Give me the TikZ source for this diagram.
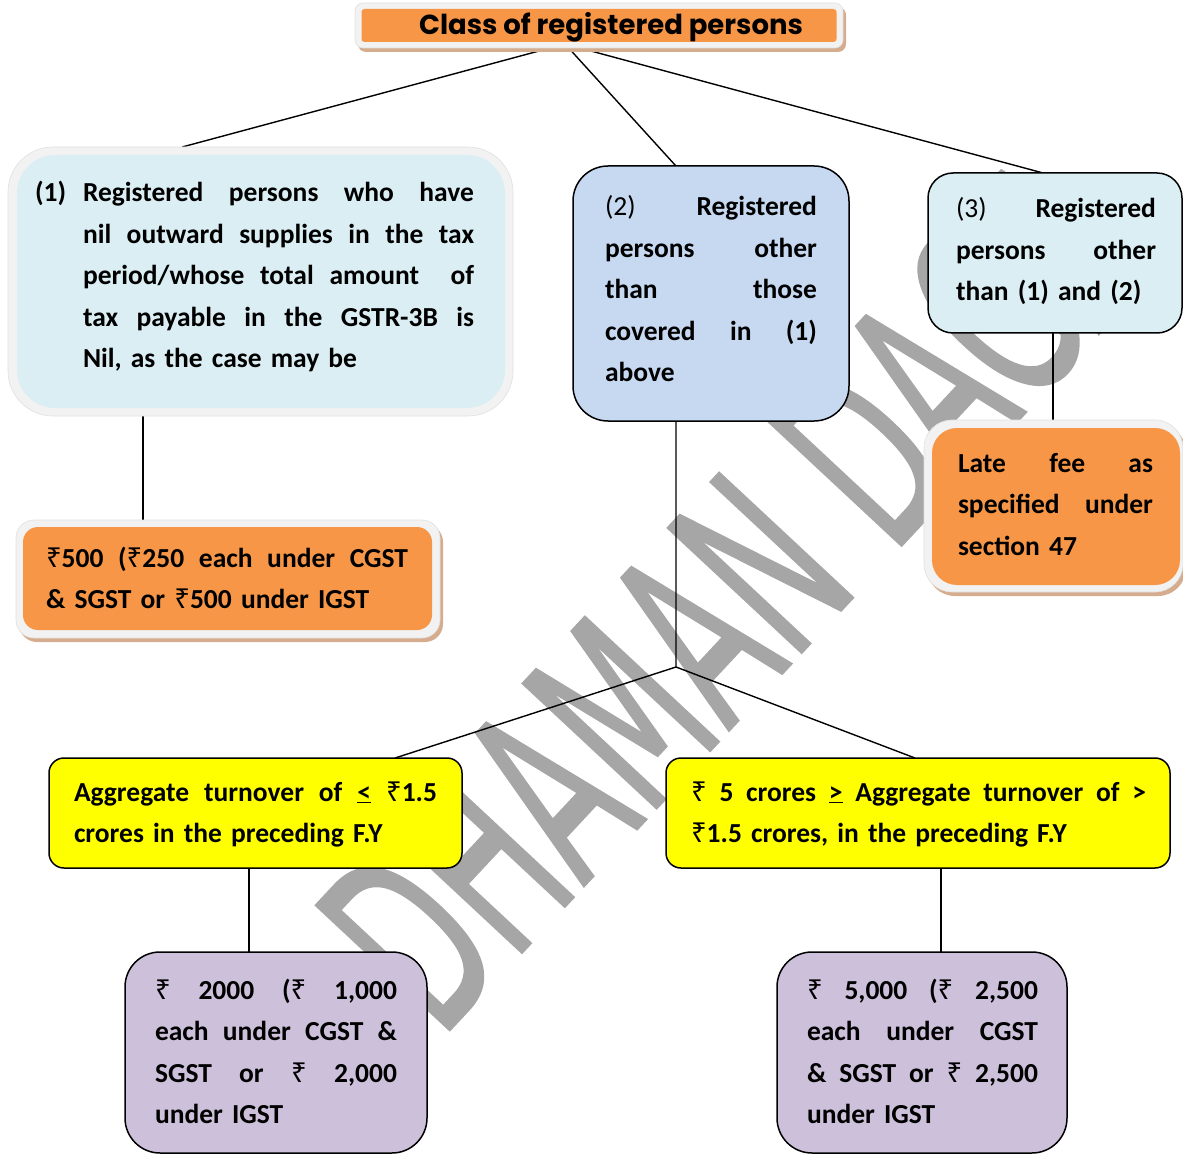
\documentclass[tikz,border=0pt]{standalone}
\usepackage{fontspec}
\setmainfont{Carlito}
\newfontfamily\rupfont{Noto Sans}
\newfontfamily\titlefont{Poppins}
\newfontfamily\wmfont{DejaVu Sans}[FakeBold=1.2]
\usetikzlibrary{calc}

\definecolor{orng}{HTML}{F79646}
\definecolor{paleblue}{HTML}{DAEEF3}
\definecolor{midblue}{HTML}{C6D9F1}
\definecolor{lilac}{HTML}{CCC0DA}
\definecolor{brightyellow}{HTML}{FFFF00}
\definecolor{bandgray}{HTML}{F2F2F2}
\definecolor{bandedge}{HTML}{E0E0E0}
\definecolor{tanshadow}{RGB}{214,172,142}
\definecolor{wmgray}{HTML}{A6A6A6}

% rupee sign and a line stretched to the full text width
\newcommand{\rs}{{\rupfont ₹}}
\newcommand{\jl}[1]{\leavevmode\hbox to \hsize{\spaceskip=0.23em plus 1fil\relax
  \xspaceskip=0.23em plus 1fil\relax #1}\\}

\pgfdeclarelayer{wmlayer}
\pgfdeclarelayer{linklayer}
\pgfsetlayers{wmlayer,linklayer,main}

\tikzset{
  box/.style={draw=black, line width=1.5pt, inner sep=0pt, outer sep=0pt},
  band/.style={fill=bandgray, draw=bandedge, line width=0.6pt, inner sep=0pt, outer sep=0pt},
  core/.style={inner sep=0pt, outer sep=0pt},
  shade/.style={fill=tanshadow, inner sep=0pt, outer sep=0pt},
  txt/.style={inner sep=0pt, outer sep=0pt, anchor=base west, align=left,
    font=\bfseries\fontsize{27.5}{41.5}\selectfont},
  link/.style={draw=black, line width=1.4pt},
}

\begin{document}
\begin{tikzpicture}[x=1pt, y=-1pt]
\useasboundingbox (0,0) rectangle (1183,1155);

% ---------- title ----------
\node[shade, rounded corners=8, minimum width=488, minimum height=45] (titlesh) at (602,29.5) {};
\node[band, rounded corners=8, minimum width=488, minimum height=45] (titlefr) at (599,25.5) {};
\node[core, fill=orng, rounded corners=3, minimum width=475, minimum height=33] (title) at (599,25.5) {};
\node[inner sep=0pt, font=\titlefont\bfseries\fontsize{27.5}{30}\selectfont] (titletext) at (611,27) {Class of registered persons};

% ---------- box (1) ----------
\node[band, rounded corners=45, minimum width=505, minimum height=269] (b1) at (260.5,281.5) {};
\node[core, fill=paleblue, rounded corners=38, minimum width=488, minimum height=253] (b1f) at (261,281.5) {};
\node[txt] (n1) at (35,202) {(1)};
\node[txt, text width=391] (t1) at (83,202) {%
\jl{Registered persons who have}
\jl{nil outward supplies in the tax}
\jl{period/whose total amount\ \ of}
\jl{tax payable in the GSTR-3B is}
Nil, as the case may be};

% ---------- box (2) ----------
\node[box, fill=midblue, rounded corners=35, minimum width=276, minimum height=255] (b2) at (711,293.5) {};
\node[txt, text width=212] (t2) at (605,216) {%
\jl{{\mdseries (2)} Registered}
\jl{persons other}
\jl{than those}
\jl{covered in (1)}
above};

% ---------- box (3) ----------
\node[box, fill=paleblue, rounded corners=25, minimum width=254, minimum height=160] (b3) at (1055,253) {};
\node[txt, text width=200] (t3) at (956,218) {%
\jl{{\mdseries (3)} Registered}
\jl{persons other}
than (1) and (2)};

% ---------- fee for (1) ----------
\node[shade, rounded corners=18, minimum width=424, minimum height=118] (o1sh) at (231,583) {};
\node[band, rounded corners=18, minimum width=424, minimum height=118] (o1) at (228,579) {};
\node[core, fill=orng, rounded corners=15, minimum width=409, minimum height=103] (o1f) at (227.5,578.5) {};
\node[txt, text width=362] (to1) at (46,567) {%
\jl{\rs500 (\rs250 each under CGST}
\& SGST or \rs500 under IGST};

% ---------- fee for (3) ----------
\node[shade, rounded corners=28, minimum width=259, minimum height=172] (lfsh) at (1056.5,510) {};
\node[band, rounded corners=28, minimum width=259, minimum height=172] (lf) at (1053.5,506) {};
\node[core, fill=orng, rounded corners=25, minimum width=248, minimum height=157] (lff) at (1056,506.5) {};
\node[txt, text width=195] (tlf) at (958,472) {%
\jl{Late fee as}
\jl{specified under}
section 47};

% ---------- turnover slabs ----------
\node[box, fill=brightyellow, rounded corners=15, minimum width=413, minimum height=110] (yl) at (255.5,813) {};
\node[txt, text width=363] (tyl) at (74,801) {%
\jl{Aggregate turnover of \underline{<} \rs1.5}
crores in the preceding F.Y};

\node[box, fill=brightyellow, rounded corners=15, minimum width=504, minimum height=110] (yr) at (918,813) {};
\node[txt, text width=455] (tyr) at (691,801) {%
\jl{\rs\ 5 crores \underline{>} Aggregate turnover of >}
\rs1.5 crores, in the preceding F.Y};

% ---------- fees for (2) ----------
\node[box, fill=lilac, rounded corners=35, minimum width=302, minimum height=201] (pl) at (276,1052.5) {};
\node[txt, text width=242] (tpl) at (155,999) {%
\jl{\rs\ 2000 (\rs\ 1,000}
\jl{each under CGST \&}
\jl{SGST or \rs\ 2,000}
under IGST};

\node[box, fill=lilac, rounded corners=35, minimum width=290, minimum height=201] (pr) at (922,1052.5) {};
\node[txt, text width=231] (tpr) at (807,999) {%
\jl{\rs\ 5,000 (\rs\ 2,500}
\jl{each under CGST}
\jl{\& SGST or \rs\ 2,500}
under IGST};

% ---------- connectors ----------
\begin{pgfonlayer}{linklayer}
  \coordinate (hub) at (565,44);
  \draw[link] (hub) -- ($(b1.north west)!0.345!(b1.north east)$);
  \draw[link] (hub) -- ($(b2.north west)!0.373!(b2.north east)$);
  \draw[link] (hub) -- ($(b3.north west)!0.453!(b3.north east)$);

  \coordinate (b1s) at ($(b1.south west)!0.267!(b1.south east)$);
  \draw[link] (b1s) -- (b1s |- o1.north);

  \coordinate (b3s) at ($(b3.south west)!0.492!(b3.south east)$);
  \draw[link] (b3s) -- (b3s |- lf.north);

  \coordinate (b2s) at ($(b2.south west)!0.373!(b2.south east)$);
  \coordinate (split) at (676,667);
  \draw[link] (b2s) -- (split);
  \draw[link] (split) -- ($(yl.north west)!0.838!(yl.north east)$);
  \draw[link] (split) -- ($(yr.north west)!0.494!(yr.north east)$);

  \coordinate (yls) at ($(yl.south west)!0.484!(yl.south east)$);
  \draw[link] (yls) -- (yls |- pl.north);
  \coordinate (yrs) at ($(yr.south west)!0.546!(yr.south east)$);
  \draw[link] (yrs) -- (yrs |- pr.north);
\end{pgfonlayer}

% ---------- watermark ----------
\begin{pgfonlayer}{wmlayer}
  \node[text=wmgray, inner sep=0pt, anchor=base west, rotate=47, xscale=0.55,
        font=\wmfont\fontsize{250}{250}\selectfont] (wm) at (440,1040) {DHAMAN DAGA};
\end{pgfonlayer}
\end{tikzpicture}
\end{document}
